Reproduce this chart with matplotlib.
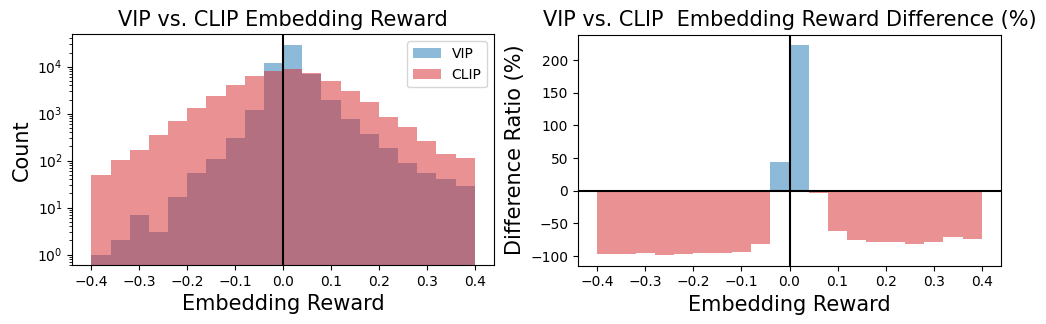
import numpy as np
import matplotlib
matplotlib.use('Agg')
import matplotlib.pyplot as plt

# bin edges of the embedding reward histogram
edges = np.linspace(-0.4, 0.4, 21)

# counts per bin
vip_counts = [1, 2, 7, 3, 17, 54, 108, 300, 1170, 12200,
              29200, 7000, 2000, 755, 363, 184, 88, 54, 41, 29]
clip_counts = [49, 102, 167, 346, 686, 1290, 2430, 4160, 6450, 8230,
               9080, 7200, 5050, 3050, 1730, 832, 512, 259, 137, 113]

# difference ratio (%) per bin, right panel
diff_ratio = [-97.2, -97.2, -95.7, -98.7, -97.2, -95.7, -95.7, -93.1, -81.8, 43.5,
              223.0, -3.6, -60.9, -76.2, -78.8, -78.8, -81.8, -78.8, -71.6, -74.2]

centers = (edges[:-1] + edges[1:]) / 2
width = edges[1] - edges[0]

fig = plt.figure(figsize=(10.46, 3.24), dpi=100)
ax1 = fig.add_axes([72.3 / 1046, 0.182, 421.7 / 1046, 0.712])
ax2 = fig.add_axes([578 / 1046, 0.180, 423 / 1046, 0.713])

# --- left: histograms ---
ax1.hist(centers, bins=edges, weights=vip_counts, alpha=0.5, color='tab:blue',
         label='VIP', log=True)
ax1.hist(centers, bins=edges, weights=clip_counts, alpha=0.5, color='tab:red',
         label='CLIP', log=True)
ax1.axvline(0, color='black')
ax1.set_title('VIP vs. CLIP Embedding Reward', fontsize=15)
ax1.set_xlabel('Embedding Reward', fontsize=15)
ax1.set_ylabel('Count', fontsize=15)
ax1.legend(loc='upper right')

# --- right: difference ratio ---
diff = np.array(diff_ratio)
colors = ['tab:blue' if d > 0 else 'tab:red' for d in diff]
ax2.bar(edges[:-1], diff, width=width, align='edge', color=colors, alpha=0.5)
ax2.axhline(0, color='black')
ax2.axvline(0, color='black')
ax2.set_title('VIP vs. CLIP  Embedding Reward Difference (%)', fontsize=15)
ax2.set_xlabel('Embedding Reward', fontsize=15)
ax2.set_ylabel('Difference Ratio (%)', fontsize=15)

plt.savefig('out.png', dpi=100)
